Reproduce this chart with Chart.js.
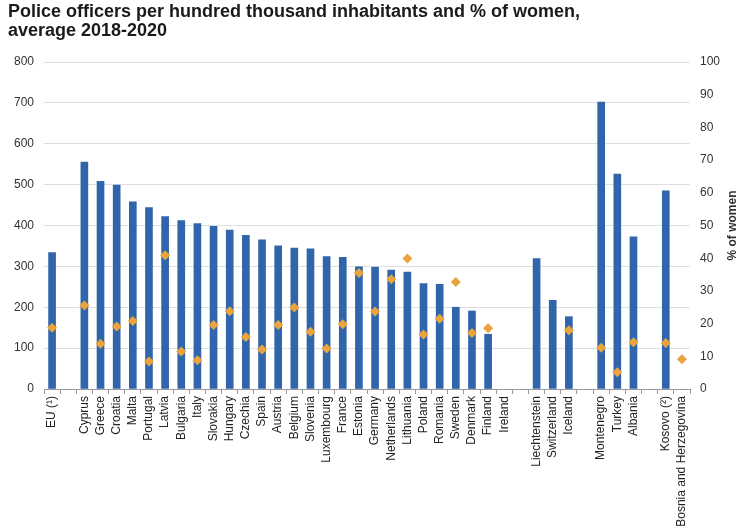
<!DOCTYPE html>
<html>
<head>
<meta charset="utf-8">
<script src="https://cdn.jsdelivr.net/npm/chart.js@4.4.0/dist/chart.umd.min.js"></script>
<style>
  html, body { margin: 0; padding: 0; background: #fff; }
  canvas { display: block; }
</style>
</head>
<body>
<canvas id="policeChart" width="750" height="529"></canvas>
<script>
// categories (empty strings are the gaps between groups)
const countries = [
    "EU (¹)", "", "Cyprus", "Greece", "Croatia", "Malta", "Portugal", "Latvia", "Bulgaria", "Italy",
    "Slovakia", "Hungary", "Czechia", "Spain", "Austria", "Belgium", "Slovenia", "Luxembourg", "France",
    "Estonia", "Germany", "Netherlands", "Lithuania", "Poland", "Romania", "Sweden", "Denmark", "Finland",
    "Ireland", "", "Liechtenstein", "Switzerland", "Iceland", "", "Montenegro", "Turkey", "Albania", "",
    "Kosovo (²)", "Bosnia and Herzegovina"
];

// police officers per hundred thousand inhabitants
const officers = [
    334, null, 555, 508, 499, 458, 444, 422, 412, 405,
    398, 389, 376, 365, 350, 345, 343, 324, 322,
    299, 298, 291, 286, 258, 256, 200, 191, 134,
    null, null, 319, 217, 177, null, 702, 526, 372, null,
    485, null
];

// % of women among police officers
const womenShare = [
    18.7, null, 25.5, 13.8, 19.1, 20.8, 8.4, 40.9, 11.5, 8.8,
    19.6, 23.8, 15.9, 12.1, 19.6, 24.9, 17.5, 12.4, 19.8,
    35.5, 23.7, 33.6, 39.9, 16.7, 21.5, 32.7, 17.1, 18.6,
    null, null, null, null, 18.0, null, 12.6, 5.1, 14.3, null,
    14.1, 9.1
];

const leftTicks = [0, 100, 200, 300, 400, 500, 600, 700, 800];
const rightTicks = [0, 10, 20, 30, 40, 50, 60, 70, 80, 90, 100];

const titleLines = [
    "Police officers per hundred thousand inhabitants and % of women,",
    "average 2018-2020"
];

const fontFamily = "'Liberation Sans', Arial, sans-serif";

// draws the two-line title and the right axis title (reading bottom to top)
const textPlugin = {
    id: "textPlugin",
    afterDraw(chart) {
        const ctx = chart.ctx;
        ctx.save();
        ctx.fillStyle = "#1a1a1a";
        ctx.font = "bold 18px " + fontFamily;
        ctx.textAlign = "left";
        ctx.textBaseline = "alphabetic";
        ctx.fillText(titleLines[0], 8, 17);
        ctx.fillText(titleLines[1], 8, 36);

        const area = chart.chartArea;
        ctx.translate(733, (area.top + area.bottom) / 2);
        ctx.rotate(-Math.PI / 2);
        ctx.font = "bold 12px " + fontFamily;
        ctx.fillStyle = "#333";
        ctx.textAlign = "center";
        ctx.textBaseline = "middle";
        ctx.fillText("% of women", 0, 0);
        ctx.restore();
    }
};

const ctx = document.getElementById("policeChart").getContext("2d");
new Chart(ctx, {
    type: "bar",
    data: {
        labels: countries,
        datasets: [
            {
                type: "line",
                label: "% of women",
                data: womenShare,
                yAxisID: "y1",
                showLine: false,
                pointStyle: "rectRot",
                pointRadius: 5,
                pointBackgroundColor: "#e9a43c",
                pointBorderColor: "#e9a43c",
                pointBorderWidth: 0,
                order: 0
            },
            {
                label: "Police officers",
                data: officers,
                yAxisID: "y",
                backgroundColor: "#3065ab",
                barThickness: 7,
                order: 1
            }
        ]
    },
    options: {
        responsive: false,
        animation: false,
        devicePixelRatio: 1,
        layout: { padding: { top: 62, left: 0, right: 0, bottom: 0 } },
        plugins: {
            legend: { display: false },
            tooltip: { enabled: false },
            title: { display: false }
        },
        scales: {
            x: {
                offset: true,
                grid: {
                    offset: true,
                    drawOnChartArea: false,
                    drawTicks: true,
                    tickLength: 5,
                    color: "#999"
                },
                border: { display: true, color: "#999" },
                ticks: {
                    autoSkip: false,
                    minRotation: 90,
                    maxRotation: 90,
                    padding: 2,
                    color: "#222",
                    font: { family: fontFamily, size: 12 }
                },
                afterFit(scale) { scale.height = 140; }
            },
            y: {
                position: "left",
                min: 0,
                max: 800,
                afterBuildTicks(scale) { scale.ticks = leftTicks.map(v => ({ value: v })); },
                grid: { color: "#dedede", drawTicks: false },
                border: { display: false },
                ticks: {
                    padding: 10,
                    color: "#333",
                    font: { family: fontFamily, size: 12 }
                },
                afterFit(scale) { scale.width = 44; }
            },
            y1: {
                position: "right",
                min: 0,
                max: 100,
                afterBuildTicks(scale) { scale.ticks = rightTicks.map(v => ({ value: v })); },
                grid: { display: false, drawTicks: false },
                border: { display: false },
                ticks: {
                    padding: 10,
                    color: "#333",
                    font: { family: fontFamily, size: 12 }
                },
                afterFit(scale) { scale.width = 60; }
            }
        }
    },
    plugins: [textPlugin]
});
</script>
</body>
</html>
